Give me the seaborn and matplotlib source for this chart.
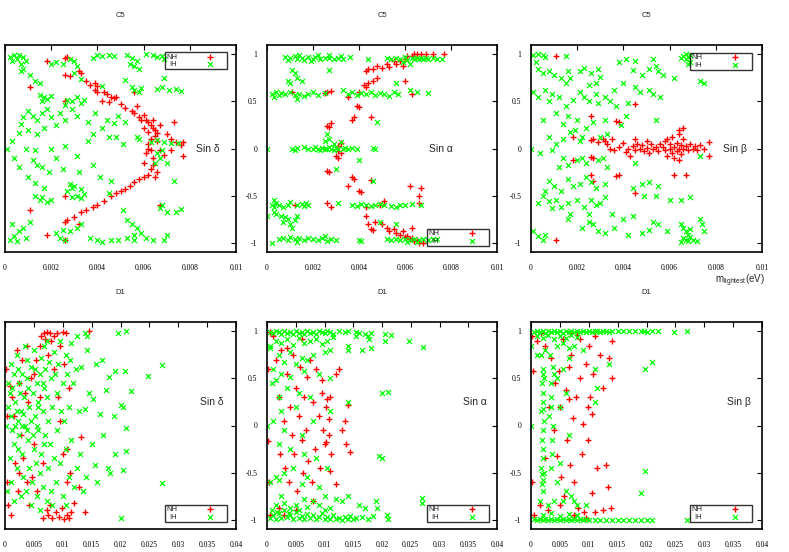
import seaborn as sns
import matplotlib.pyplot as plt
import pandas as pd
import numpy as np

# =========================
#   DATA  (m_lightest in meV, sine value)
# =========================

c5_delta_nh = [
    (1.8, .93), (2.7, .97), (2.6, .96), (2.6, .78), (2.8, .77), (3.2, .82), (3.3, .8), (3.5, .72), (3.7, .68),
    (3.9, .7), (4.0, .66), (4.0, .6), (3.9, .62), (4.4, .58), (4.3, .6), (4.6, .55), (4.7, .54), (4.2, .5),
    (4.5, .49), (5.0, .47), (5.2, .43), (5.5, .4), (5.6, .38), (5.8, .33), (5.9, .3), (5.7, .45), (6.0, .36),
    (6.1, .3), (6.2, .28), (6.3, .25), (6.4, .22), (6.5, .2), (6.4, .3), (6.6, .17), (6.5, .13), (6.2, .18),
    (6.3, .1), (6.6, .08), (6.7, .25), (7.3, .28), (7.0, .15), (7.2, .1), (7.4, .07), (7.6, .04), (7.7, .07),
    (6.2, .05), (6.2, 0), (6.3, -.02), (6.1, -.05), (6.4, -.1), (6.9, -.07), (7.2, -.02), (7.7, -.08),
    (6.4, -.18), (6.3, -.22), (6.2, -.28), (6.0, -.3), (6.5, -.3), (6.6, -.25), (5.8, -.32), (5.6, -.36),
    (5.4, -.4), (5.2, -.43), (5.0, -.45), (4.8, -.47), (4.6, -.5), (4.3, -.56), (4.0, -.6), (3.8, -.62),
    (3.5, -.65), (3.3, -.68), (3.0, -.73), (2.7, -.76), (2.6, -.78), (2.6, -.5), (2.6, .5), (3.2, -.8),
    (2.6, -.97), (1.8, -.92), (1.1, -.65), (1.1, .65), (6.7, -.6), (5.6, .6), (4.8, .55), (6.0, .22),
    (6.0, -.15), (6.7, -.02),
]
c5_delta_ih = [
    (.2, .97), (.4, .99), (.5, .95), (.6, .99), (.8, .97), (.9, .93), (.7, .9), (.3, .93), (.8, .85),
    (2.2, .92), (2.5, .9), (2.8, .95), (2.0, .9), (3.0, .93), (3.1, .88), (4.0, .99), (4.2, .98), (4.5, .99),
    (4.7, .98), (3.8, .96), (5.3, .99), (5.5, .96), (5.7, .93), (5.6, .88), (5.8, .84), (5.4, .9), (6.1, 1.0),
    (6.4, .99), (6.8, .98), (6.9, .95), (6.6, .97), (.7, .82), (1.1, .78), (1.3, .72), (1.5, .7), (3.3, .74),
    (3.0, .8), (5.2, .73), (5.6, .62), (5.8, .6), (5.9, .64), (5.5, .65), (4.2, .66), (6.6, .63), (6.8, .65),
    (7.1, .62), (7.4, .63), (7.6, .61), (6.9, .75), (1.5, .57), (1.7, .55), (1.8, .53), (2.0, .56), (1.6, .5),
    (2.7, .52), (2.9, .5), (3.1, .55), (3.3, .48), (3.4, .52), (2.6, .46), (.8, .33), (.7, .26), (1.0, .4),
    (1.2, .35), (1.4, .3), (1.6, .38), (1.8, .42), (2.0, .33), (2.2, .25), (2.4, .38), (2.6, .3), (1.0, .2),
    (1.4, .15), (1.7, .22), (2.9, .42), (3.1, .35), (.6, .17), (3.6, .28), (3.9, .38), (4.2, .22), (4.4, .3),
    (4.7, .27), (4.9, .35), (3.8, .15), (4.5, .12), (5.2, .28), (5.7, .12), (5.8, .1), (6.3, .07), (6.6, .09),
    (6.9, .07), (7.2, .06), (7.5, .06), (.9, 0), (1.3, -.02), (2.0, 0), (2.6, .03), (3.1, -.08), (3.6, .08),
    (4.8, .12), (5.1, .05), (.3, .08), (.1, 0), (.4, -.1), (.6, -.2), (1.2, -.12), (1.4, -.18), (1.6, -.2),
    (2.2, -.1), (2.5, -.22), (1.9, -.25), (1.0, -.3), (3.2, -.25), (3.8, -.18), (4.1, -.3), (4.6, -.35),
    (6.6, -.05), (6.7, -.1), (6.5, -.15), (6.8, -.02), (7.0, -.15), (7.3, -.35), (1.3, -.37), (1.7, -.42),
    (2.8, -.38), (2.9, -.42), (3.0, -.4), (2.7, -.45), (3.3, -.43), (1.5, -.55), (1.6, -.52), (1.8, -.57),
    (1.3, -.5), (2.0, -.55), (3.1, -.5), (3.3, -.53), (3.4, -.48), (2.9, -.52), (4.5, -.47), (5.1, -.65),
    (6.7, -.63), (7.0, -.68), (7.4, -.67), (7.6, -.64), (6.8, -.6), (5.5, -.8), (5.7, -.85), (5.9, -.9),
    (5.6, -.92), (5.3, -.76), (6.1, -.95), (.2, -.97), (.4, -.93), (.6, -.88), (.8, -.85), (.5, -.98),
    (.9, -.95), (.3, -.8), (1.1, -.78), (2.2, -.9), (2.5, -.87), (2.8, -.88), (3.1, -.85), (3.3, -.8),
    (2.4, -.95), (2.6, -.97), (4.0, -.97), (4.2, -.99), (4.6, -.97), (4.9, -.97), (5.3, -.95), (5.6, -.97),
    (6.4, -.97), (6.9, -.97), (7.0, -.92), (3.7, -.95),
]

c5_alpha_nh = [
    (1.1, .6), (2.5, .59), (2.8, .61), (2.6, .6), (3.5, .55), (4.0, .6), (3.9, .45), (4.0, .44), (3.7, .3),
    (3.8, .33), (4.5, .33), (2.6, .24), (2.7, .23), (2.8, .27), (3.2, .06), (3.1, .03), (3.1, -.03),
    (3.0, -.08), (3.1, -.1), (3.2, -.05), (2.6, -.24), (2.7, -.25), (3.7, -.3), (3.8, -.32), (4.5, -.34),
    (4.0, -.45), (4.1, -.46), (3.5, -.4), (2.6, -.58), (2.8, -.62), (1.2, -.6), (4.3, -.72), (4.4, -.8),
    (4.5, -.86), (4.6, -.87), (4.7, -.78), (5.0, -.8), (5.2, -.84), (5.3, -.88), (5.5, -.86), (5.6, -.9),
    (5.8, -.92), (5.9, -.88), (6.0, -.94), (6.1, -.93), (6.2, -.96), (6.3, -.95), (6.4, -.98), (6.5, -.97),
    (6.6, -1.0), (6.8, -1.0), (6.2, -.4), (6.7, -.42), (6.6, -.5), (6.6, -.58), (6.3, -.85), (4.3, .82),
    (4.4, .84), (4.6, .84), (4.8, .88), (5.0, .86), (5.2, .9), (5.3, .87), (5.5, .93), (5.6, .9), (5.8, .93),
    (6.0, .95), (6.1, .98), (6.3, .98), (6.4, 1.0), (6.5, 1.0), (6.7, 1.0), (6.9, 1.0), (7.2, 1.0),
    (7.7, 1.0), (4.2, .68), (4.4, .7), (4.6, .72), (4.8, .75), (4.3, .65), (6.0, .72), (6.3, .58),
    (5.9, .88), (4.3, -.62), (5.1, -.56), (4.9, -.6),
]
c5_alpha_ih = [
    (.8, .97), (.9, .94), (1.0, .96), (1.2, .98), (1.3, .95), (1.5, .96), (1.6, .94), (1.8, .97), (2.0, .95),
    (2.1, .97), (2.3, .95), (2.5, .96), (2.7, .96), (2.9, .95), (3.1, .96), (3.3, .95), (3.6, .97), (1.4, .99),
    (2.2, .99), (2.7, .99), (3.2, .98), (1.9, .93), (5.2, .96), (5.4, .95), (5.6, .96), (5.8, .95), (6.0, .97),
    (6.1, .94), (6.3, .96), (6.4, .95), (6.5, .96), (6.6, .95), (6.7, .96), (6.8, .95), (6.9, .96), (7.0, .95),
    (7.2, .96), (7.4, .95), (7.6, .95), (4.4, .95), (5.9, .92), (6.2, .9), (1.1, .83), (1.2, .8), (.9, .72),
    (1.0, .7), (1.3, .75), (1.5, .72), (2.7, .83), (.2, .58), (.4, .6), (.5, .57), (.6, .59), (.8, .58),
    (1.0, .6), (1.2, .57), (1.4, .58), (1.6, .56), (1.8, .58), (2.0, .6), (2.2, .57), (1.3, .53), (.3, .55),
    (2.5, .59), (3.5, .58), (3.7, .6), (3.9, .57), (4.1, .59), (4.3, .58), (4.5, .6), (4.7, .57), (4.9, .59),
    (5.1, .58), (5.3, .56), (5.5, .6), (5.7, .58), (3.3, .62), (5.6, .7), (6.2, .62), (6.5, .6), (7.0, .59),
    (0, 0), (1.1, 0), (1.2, -.02), (1.3, .01), (1.6, .02), (1.8, 0), (2.0, -.01), (2.1, .02), (2.2, 0),
    (2.3, -.02), (2.4, .01), (2.5, 0), (2.6, -.01), (2.7, .02), (2.8, 0), (2.9, -.02), (3.0, .01), (3.1, 0),
    (3.3, -.01), (3.4, .01), (3.5, 0), (3.7, .01), (3.9, 0), (4.6, .01), (4.7, 0), (2.6, .15), (2.7, .1),
    (2.5, .08), (4.8, .28), (2.9, .05), (3.2, .07), (4.0, -.12), (3.0, -.22), (.2, -.6), (.3, -.62),
    (.4, -.58), (.5, -.6), (.7, -.62), (.9, -.6), (1.0, -.57), (1.3, -.6), (1.5, -.59), (1.6, -.61),
    (1.7, -.58), (1.8, -.6), (.3, -.55), (3.7, -.6), (3.9, -.61), (4.1, -.59), (4.3, -.6), (4.5, -.61),
    (4.7, -.6), (4.9, -.59), (5.1, -.6), (5.4, -.61), (5.6, -.62), (5.8, -.6), (6.0, -.6), (6.3, -.59),
    (6.7, -.6), (4.6, -.35), (3.1, -.58), (0, -.72), (.3, -.68), (.4, -.7), (.6, -.72), (.7, -.78),
    (.9, -.75), (1.0, -.8), (1.2, -.76), (1.3, -.72), (1.1, -.85), (.8, -.73), (5.6, -.8), (4.9, -.78),
    (.2, -1.0), (.5, -.96), (.7, -.95), (.9, -.97), (1.0, -.94), (1.2, -.96), (1.4, -.95), (1.6, -.97),
    (1.8, -.95), (2.0, -.96), (2.2, -.97), (2.4, -.95), (2.6, -.98), (2.8, -.96), (3.0, -.97), (2.5, -.93),
    (1.3, -.99), (4.0, -.97), (4.1, -.98), (5.2, -.96), (5.4, -.97), (5.6, -.96), (5.8, -.97), (6.0, -.96),
    (6.2, -.97), (6.4, -.96), (6.6, -.97), (6.8, -.96), (7.0, -.97), (7.2, -.96), (7.4, -.96), (6.1, -.99),
    (6.5, -.99),
]

c5_beta_nh = [
    (1.1, .98), (1.1, -.97), (1.8, .12), (1.8, -.12), (2.6, .35), (2.6, .09), (2.6, -.09), (2.6, -.28),
    (2.7, -.35), (2.7, .1), (2.9, .07), (3.1, .1), (3.2, .08), (3.5, .1), (3.7, .29), (3.8, .28), (3.7, -.29),
    (3.8, -.28), (4.5, .47), (4.5, -.47), (3.3, .05), (3.4, 0), (3.6, -.02), (3.8, .02), (4.0, .06),
    (4.1, -.04), (4.2, 0), (4.4, .03), (4.5, -.02), (4.6, .05), (4.7, 0), (4.8, .04), (4.9, -.03), (5.0, .01),
    (5.1, -.05), (5.2, .05), (5.3, 0), (5.4, .02), (5.5, -.03), (5.6, .05), (5.7, .02), (5.8, -.02),
    (5.8, .08), (5.9, .1), (5.9, -.08), (6.0, 0), (6.0, .05), (6.1, -.05), (6.1, .12), (6.2, .02), (6.2, -.1),
    (6.3, .06), (6.3, -.03), (6.4, .15), (6.4, 0), (6.4, -.12), (6.5, .04), (6.5, -.06), (6.6, .1), (6.6, 0),
    (6.7, .03), (6.8, -.02), (6.9, .05), (7.0, 0), (7.1, .03), (7.2, -.02), (7.3, .04), (7.5, 0), (7.7, .07),
    (7.7, -.08), (6.2, -.28), (6.7, -.28), (6.6, .22), (6.4, .2), (2.7, -.1), (4.5, .1), (5.0, .08),
    (4.3, -.08),
]
c5_beta_ih = [
    (.1, .99), (.3, 1.0), (.5, .99), (.6, .97), (1.5, .98), (.2, .92), (6.6, .98), (6.7, 1.0), (6.8, .97),
    (6.9, .99), (6.7, .95), (6.9, .92), (6.5, .96), (6.8, .9), (.3, .85), (.5, .8), (.8, .82), (1.0, .78),
    (1.3, .75), (1.6, .82), (1.7, .75), (1.5, .7), (2.1, .82), (2.3, .86), (2.6, .8), (2.9, .85), (3.0, .76),
    (2.8, .7), (2.5, .68), (3.8, .92), (4.1, .95), (4.5, .93), (5.3, .95), (5.4, .88), (5.1, .85), (5.5, .82),
    (5.7, .78), (6.2, .75), (7.3, .72), (7.5, .7), (4.4, .83), (4.8, .78), (4.5, .65), (4.7, .6), (5.1, .62),
    (5.3, .58), (5.6, .55), (4.0, .7), (3.6, .62), (.1, .6), (.3, .55), (.6, .62), (.9, .58), (1.2, .55),
    (.8, .5), (1.5, .45), (1.8, .52), (2.1, .6), (2.3, .55), (2.5, .5), (2.8, .58), (2.9, .48), (3.2, .55),
    (3.4, .5), (3.7, .45), (4.2, .48), (5.4, .3), (4.1, .35), (3.9, .25), (3.2, .3), (2.7, .28), (2.4, .22),
    (2.0, .3), (1.6, .35), (1.4, .26), (1.1, .38), (.5, .3), (1.9, .2), (.8, .12), (1.1, .05), (1.7, .18),
    (2.2, .12), (3.0, .12), (3.3, .15), (2.1, .08), (1.4, .1), (0, 0), (.4, -.05), (.9, -.02), (1.4, -.1),
    (1.2, -.2), (1.6, -.18), (2.0, -.12), (2.2, -.1), (2.4, -.15), (2.9, -.12), (3.1, -.1), (3.3, -.2),
    (4.5, -.15), (7.3, -.08), (.6, -.45), (.8, -.35), (1.0, -.4), (1.3, -.45), (1.6, -.32), (1.8, -.4),
    (2.1, -.38), (2.4, -.3), (2.6, -.36), (2.8, -.42), (3.2, -.38), (4.4, -.42), (4.8, -.38), (5.1, -.36),
    (5.5, -.4), (5.4, -.5), (4.9, -.5), (6.0, -.55), (6.5, -.55), (6.9, -.52), (.3, -.58), (.5, -.5),
    (.8, -.56), (.9, -.63), (1.1, -.55), (1.3, -.62), (1.6, -.58), (1.7, -.7), (1.6, -.75), (2.0, -.55),
    (2.3, -.62), (2.5, -.7), (2.6, -.55), (2.8, -.6), (3.0, -.58), (3.2, -.52), (2.5, -.78), (2.7, -.8),
    (3.5, -.7), (4.0, -.75), (4.4, -.72), (5.3, -.78), (5.5, -.8), (5.9, -.88), (2.2, -.85), (2.9, -.88),
    (3.6, -.85), (4.2, -.92), (4.8, -.9), (5.1, -.87), (3.2, -.9), (.1, -.88), (.3, -.93), (.5, -.97),
    (.6, -.92), (6.5, -.8), (6.6, -.85), (6.7, -.88), (6.8, -.92), (6.6, -.95), (6.8, -.98), (6.7, -.97),
    (6.9, -.94), (7.0, -.97), (7.2, -.98), (6.5, -.99), (6.9, -.86), (7.5, -.88), (7.3, -.75), (7.4, -.8),
]

d1_delta_nh = [
    (.2, .6), (.3, -.6), (.3, .1), (.5, -.85), (1.0, -.95), (.8, .42), (1.5, .1), (1.8, -.4), (2.0, .8),
    (2.2, -.7), (2.5, .45), (2.8, -.1), (3.0, .7), (3.2, -.35), (3.5, .35), (3.8, -.6), (3.8, .85), (4.0, .25),
    (4.2, -.85), (4.5, .5), (4.6, -.55), (5.0, -.2), (5.3, .7), (5.5, -.7), (6.0, .85), (6.2, .95),
    (6.5, -.98), (6.8, .98), (7.0, .92), (7.2, -.9), (7.3, .99), (7.5, -.95), (7.8, .98), (7.8, -.85),
    (8.0, .9), (8.2, -.98), (8.5, .95), (8.8, -.92), (9.0, .98), (9.3, -.97), (9.5, .85), (9.8, -.88),
    (10.0, .99), (10.2, -.99), (10.5, .98), (10.8, -.95), (11.0, -.98), (11.5, -.92), (12.0, -.82),
    (13.8, -.92), (14.5, 1.0), (7.5, .75), (9.2, .3), (9.5, .05), (10.0, -.3), (10.3, .65), (10.8, -.25),
    (11.0, .4), (11.3, -.5), (12.8, -.65), (13.2, -.12), (10.8, -.6), (6.0, .3), (6.5, -.4), (2.5, -.5),
    (1.2, .3), (8.5, .6), (5.0, .55),
]
d1_delta_ih = [
    (.2, 0), (.5, .45), (.8, .35), (1.0, .1), (1.2, -.05), (1.5, .55), (1.5, -.2), (1.8, .25), (2.0, -.45),
    (2.2, .6), (2.3, .05), (2.5, -.1), (2.6, .35), (2.8, .15), (3.0, .55), (3.0, -.3), (3.2, -.55), (3.3, .3),
    (3.5, 0), (3.6, -.7), (3.8, .5), (3.8, .7), (4.0, -.15), (4.2, .2), (4.2, -.45), (4.5, .62), (4.5, .05),
    (4.7, -.6), (4.8, .35), (5.0, -.25), (5.0, .8), (5.2, .1), (5.3, -.4), (5.5, .45), (5.5, -.75), (5.7, .25),
    (5.8, -.05), (6.0, .55), (6.0, -.5), (6.2, .72), (6.3, -.3), (6.5, .15), (6.5, -.65), (6.7, .4), (6.8, .85),
    (7.0, -.1), (7.0, .6), (7.2, -.8), (7.3, .3), (7.5, -.45), (7.5, .05), (7.7, .68), (7.8, -.2), (8.0, .5),
    (8.0, -.7), (8.2, .2), (8.4, -.35), (8.5, .78), (8.7, .55), (8.8, -.6), (9.0, -.05), (9.0, .35),
    (9.2, .65), (9.5, -.4), (9.7, .15), (10.0, -.75), (10.0, .45), (10.2, .05), (10.5, .75), (10.5, -.25),
    (10.8, .55), (11.0, -.55), (11.0, .2), (11.3, .7), (11.5, -.15), (11.8, .45), (12.0, -.65), (12.3, .6),
    (12.5, -.45), (12.8, .15), (13.0, -.3), (13.2, .62), (13.5, -.7), (13.8, .18), (14.2, .8), (14.0, -.55),
    (14.5, .35), (15.0, -.2), (15.2, .28), (15.5, -.42), (15.8, .65), (16.0, -.6), (16.5, .12), (16.8, .7),
    (17.0, -.1), (17.5, .38), (17.8, -.45), (18.0, .52), (18.2, -.5), (18.8, .1), (19.0, .58), (19.0, -.3),
    (19.5, .98), (20.0, .22), (20.0, -.98), (20.5, .2), (20.5, -.47), (20.8, .58), (21.0, -.27), (21.0, -.03),
    (21.0, 1.0), (21.8, .37), (24.7, .53), (27.2, .64), (27.1, -.61), (13.8, .98), (14.2, .95), (.5, .2),
    (.8, -.35), (1.2, .4), (1.0, -.6), (1.8, 0), (2.0, .75), (2.5, .45), (2.8, -.75), (3.2, .12), (3.5, .85),
    (4.0, .4), (4.5, -.85), (5.2, .6), (5.8, .2), (6.0, -.9), (6.8, -.2), (7.2, .9), (8.2, -.85), (9.5, .9),
    (10.5, -.85), (11.5, .88), (12.5, .95), (1.0, .65), (2.2, -.25), (3.8, -.05), (4.8, -.1), (5.5, 0),
    (6.5, .45), (3.0, 0), (2.0, .15), (1.5, -.8), (.3, -.7),
]

d1_alpha_nh = [
    (.5, .99), (.2, .6), (.3, -.6), (.2, -.17), (.5, -.95), (1.0, .95), (1.5, .7), (2.0, .3), (2.2, -.3),
    (2.5, .8), (3.0, .05), (3.2, -.45), (3.5, .55), (3.8, -.6), (4.0, .2), (4.3, -.1), (4.5, .75), (4.7, -.3),
    (5.0, .4), (5.2, -.7), (5.5, .1), (5.7, .62), (6.0, -.15), (6.2, -.5), (6.5, .3), (6.8, -.05), (7.0, .52),
    (7.2, -.38), (7.5, .7), (7.8, -.6), (8.0, .25), (8.3, -.25), (8.5, .6), (9.0, .1), (9.2, -.45), (9.5, .35),
    (9.8, -.05), (10.0, -.2), (10.2, .2), (10.5, .28), (10.8, -.1), (11.0, .3), (11.2, -.3), (12.0, .55),
    (12.5, .6), (13.0, -.05), (13.5, .05), (13.8, -.2), (14.0, .22), (14.5, -.28), (12.0, -.62), (11.0, -.48),
    (8.0, -.8), (5.0, -.9), (3.0, -.95), (2.0, -.88), (6.0, .92), (3.5, .82), (9.5, .48), (10.8, .07),
    (10.2, -.18),
]
d1_alpha_ih = [
    (.5, .99), (1.0, .98), (1.5, 1.0), (2.0, .99), (2.5, .97), (3.0, 1.0), (3.5, .98), (4.0, .99), (4.5, .97),
    (5.0, 1.0), (5.5, .98), (6.0, .99), (6.5, .97), (7.0, 1.0), (7.5, .98), (8.0, .99), (8.5, .97), (9.0, 1.0),
    (9.5, .99), (10.0, .98), (10.5, 1.0), (11.0, .99), (11.5, .97), (12.5, 1.0), (13.5, .99), (14.0, 1.0),
    (15.5, .99), (16.0, .98), (17.0, .97), (17.5, .95), (18.0, .98), (20.5, .97), (21.5, .96), (24.7, .9),
    (27.1, .83), (17.8, .92), (20.5, .9), (14.0, .85), (14.0, .8), (15.5, .95), (18.0, .82), (16.5, .8),
    (.5, .85), (1.5, .9), (2.5, .88), (3.5, .92), (4.5, .86), (5.5, .93), (6.5, .88), (7.5, .9), (8.5, .92),
    (9.5, .87), (10.5, .9), (11.5, .94), (2.0, .75), (4.0, .78), (6.0, .72), (8.0, .75), (10.0, .78),
    (11.0, .8), (1.0, .6), (3.0, .68), (5.0, .65), (7.0, .7), (.5, .82), (2.5, .55), (4.0, .52), (1.5, .48),
    (.8, .45), (6.5, .58), (9.0, .55), (11.0, .5), (3.5, .4), (5.5, .35), (2.0, .3), (7.5, .3), (20.0, .35),
    (21.0, .36), (14.0, .25), (11.0, .15), (5.0, .2), (2.5, .15), (1.0, .05), (0, 0), (3.0, -.05), (6.0, -.1),
    (8.0, .05), (4.0, -.25), (6.5, -.3), (2.0, -.2), (10.5, -.45), (1.5, -.55), (3.0, -.5), (4.5, -.45),
    (7.0, -.55), (8.5, -.35), (19.5, -.32), (20.0, -.35), (.5, -.6), (2.0, -.58), (6.0, -.62), (9.0, -.65),
    (.5, -.98), (1.0, -.95), (1.5, -.99), (2.0, -.93), (2.5, -.98), (3.0, -.9), (3.5, -.97), (4.0, -.95),
    (4.5, -.99), (5.0, -.92), (5.5, -.98), (6.0, -.96), (6.5, -.99), (7.0, -.94), (7.5, -.98), (8.0, -.95),
    (8.5, -.99), (9.0, -.97), (9.5, -.93), (10.0, -.99), (10.5, -.97), (11.0, -.99), (11.5, -.95), (12.0, -.99),
    (12.5, -.98), (13.0, -1.0), (13.5, -.97), (14.0, -.99), (14.5, -.96), (15.0, -.99), (15.5, -.98),
    (16.5, -.97), (17.5, -.99), (18.5, -.96), (20.8, -.95), (21.0, -.99), (19.0, -.8), (19.2, -.88),
    (27.0, -.77), (27.0, -.82), (14.0, -.75), (13.0, -.8), (12.0, -.78), (10.0, -.75), (8.0, -.8),
    (6.5, -.78), (5.0, -.85), (3.0, -.82), (1.5, -.85), (2.5, -.75), (4.0, -.88), (7.0, -.87), (9.0, -.85),
    (11.0, -.88), (.8, -.9), (1.8, -.92), (3.8, -.93), (5.5, -.9), (16.0, -.85), (17.0, -.88), (10.0, -.9),
]

d1_beta_nh = [
    (.2, .95), (.3, .58), (.2, -.6), (.5, -.95), (1.0, .9), (1.5, -.85), (2.5, .85), (3.0, -.9), (3.5, .72),
    (4.0, -.05), (4.2, .45), (4.5, -.32), (4.8, .58), (5.0, .2), (5.2, -.55), (5.5, .92), (5.8, -.75),
    (6.0, .38), (6.2, -.15), (6.5, .62), (6.8, -.42), (7.0, .75), (7.2, .08), (7.5, -.6), (7.8, .3), (8.0, .96),
    (8.2, -.88), (8.5, .5), (8.8, -.3), (9.0, .02), (9.2, -.92), (9.5, .65), (9.8, -.15), (10.0, .85),
    (10.2, .3), (10.5, -.72), (10.8, .55), (11.0, -.92), (11.0, .95), (11.5, -.45), (12.0, .75), (12.5, .4),
    (12.5, -.9), (13.0, -.42), (13.5, .72), (13.8, -.88), (14.0, .5), (14.0, .9), (13.3, -.65), (10.5, .12),
    (9.8, .2), (6.5, .28), (3.2, .2), (2.5, -.35), (5.0, -.85), (7.5, -.95), (9.5, -.98), (1.8, .98),
    (6.8, .98), (8.5, .92),
]
d1_beta_ih = [
    (.5, .99), (1.0, 1.0), (1.5, .99), (2.0, 1.0), (2.5, .98), (3.0, 1.0), (3.5, .99), (4.0, 1.0), (4.5, .99),
    (5.0, 1.0), (5.5, .98), (6.0, 1.0), (6.5, .99), (7.0, 1.0), (7.5, .99), (8.0, 1.0), (8.5, .99), (9.0, 1.0),
    (9.5, .99), (10.0, 1.0), (10.5, .99), (11.0, 1.0), (11.5, 1.0), (12.0, .99), (12.5, 1.0), (13.0, 1.0),
    (13.5, .99), (14.0, 1.0), (15.0, 1.0), (16.0, 1.0), (17.0, 1.0), (18.0, 1.0), (19.0, 1.0), (19.5, 1.0),
    (20.0, .99), (21.0, 1.0), (22.0, 1.0), (24.7, .99), (27.0, 1.0), (1.0, .95), (2.0, .93), (3.0, .96),
    (4.0, .92), (5.0, .95), (6.0, .93), (7.0, .96), (8.0, .94), (.5, -.99), (1.0, -1.0), (1.5, -.99),
    (2.0, -1.0), (2.5, -.99), (3.0, -1.0), (3.5, -.99), (4.0, -1.0), (4.5, -.99), (5.0, -1.0), (5.5, -.99),
    (6.0, -1.0), (6.5, -.99), (7.0, -1.0), (7.5, -.99), (8.0, -1.0), (8.5, -.99), (9.0, -1.0), (9.5, -.99),
    (10.0, -1.0), (11.0, -1.0), (12.0, -1.0), (13.0, -1.0), (14.0, -1.0), (15.0, -1.0), (16.0, -1.0),
    (17.0, -1.0), (18.0, -1.0), (19.0, -1.0), (20.0, -1.0), (21.0, -1.0), (27.0, -1.0), (2.0, -.95),
    (3.5, -.93), (5.0, -.96), (6.5, -.94), (8.0, -.95), (1.8, .75), (2.0, .6), (2.2, .5), (1.9, .45),
    (2.1, .35), (2.0, .25), (1.8, .15), (2.2, .05), (2.0, -.05), (1.9, -.15), (2.1, -.25), (2.0, -.35),
    (1.8, -.45), (2.2, -.5), (2.0, -.58), (1.9, -.62), (2.1, -.7), (2.0, .55), (2.1, .18), (1.9, -.52),
    (0, 0), (0, .85), (3.2, .1), (3.5, .3), (3.8, 0), (3.6, -.15), (3.4, .2), (3.7, -.3), (3.5, .45),
    (4.0, .55), (3.8, .62), (3.3, .75), (3.5, -.45), (1.0, .75), (2.5, .8), (4.5, .85), (5.5, .88),
    (6.5, .82), (7.5, .85), (9.0, .8), (4.5, .5), (5.5, .6), (6.0, .35), (5.0, .2), (6.5, -.1), (5.0, -.4),
    (4.5, -.6), (6.0, -.7), (5.5, -.8), (7.0, -.75), (8.0, -.85), (7.5, -.8), (9.5, -.85), (11.5, .4),
    (11.0, .6), (13.5, .65), (19.8, .6), (21.0, .67), (19.8, -.48), (19.0, -.72), (11.0, .25), (1.5, -.8),
    (3.0, -.85), (4.0, -.8), (6.5, .72),
]

titles = ["C5", "C5", "C5", "D1", "D1", "D1"]
phase_labels = ["Sin δ", "Sin α", "Sin β", "Sin δ", "Sin α", "Sin β"]
x_ticks_c5 = [0, 0.002, 0.004, 0.006, 0.008, 0.01]
x_ticks_d1 = [0, 0.005, 0.01, 0.015, 0.02, 0.025, 0.03, 0.035, 0.04]
y_ticks = [-1, -0.5, 0, 0.5, 1]


def to_frame(pairs):
    arr = np.array(pairs)
    return pd.DataFrame({"m_lightest": arr[:, 0] / 1000.0, "sin": arr[:, 1]})


series = [
    (c5_delta_nh, c5_delta_ih), (c5_alpha_nh, c5_alpha_ih), (c5_beta_nh, c5_beta_ih),
    (d1_delta_nh, d1_delta_ih), (d1_alpha_nh, d1_alpha_ih), (d1_beta_nh, d1_beta_ih),
]

# =========================
#   STYLE
# =========================

sns.set_theme(style="white")
plt.rcParams["font.family"] = ["Liberation Serif", "DejaVu Serif"]
plt.rcParams["mathtext.fontset"] = "custom"
plt.rcParams["mathtext.rm"] = "Liberation Sans"
plt.rcParams["mathtext.it"] = "Liberation Sans"
SANS = ["Liberation Sans", "DejaVu Sans"]

W, H = 789, 552
fig = plt.figure(figsize=(W / 100, H / 100), dpi=100)

# pixel boxes (left, top, width, height) of the six frames
boxes = [
    (5, 45, 231, 207), (267, 45, 230, 207), (531, 45, 231, 207),
    (5, 322, 231, 207), (267, 322, 230, 207), (531, 322, 231, 207),
]
# legend anchor (axes fraction) and location
legend_pos = [
    ("upper right", (0.961, 0.966)), ("lower right", (0.965, 0.029)), ("upper right", (0.957, 0.963)),
    ("lower right", (0.961, 0.034)), ("lower right", (0.965, 0.034)), ("lower right", (0.957, 0.034)),
]
label_pos = [(0.827, 0.5), (0.704, 0.5), (0.831, 0.5), (0.844, 0.613), (0.852, 0.613), (0.848, 0.613)]

for i, (l, t, w, h) in enumerate(boxes):
    ax = fig.add_axes([l / W, 1 - (t + h) / H, w / W, h / H])
    nh = to_frame(series[i][0])
    ih = to_frame(series[i][1])

    sns.scatterplot(data=nh, x="m_lightest", y="sin", marker="+", color="#ff0000",
                    s=20, linewidth=1.0, label="NH", ax=ax)
    sns.scatterplot(data=ih, x="m_lightest", y="sin", marker="x", color="#00ff00",
                    s=13, linewidth=0.9, label="IH", ax=ax)

    ticks = x_ticks_c5 if i < 3 else x_ticks_d1
    ax.set_xlim(0, ticks[-1])
    ax.set_ylim(-1.1, 1.1)
    ax.set_xticks(ticks)
    ax.set_xticklabels([f"{v:g}" for v in ticks])
    ax.set_yticks(y_ticks)
    ax.set_yticklabels([f"{v:g}" for v in y_ticks])
    ax.set_xlabel("")
    ax.set_ylabel("")
    ax.tick_params(axis="both", direction="in", top=True, right=True, length=3.5,
                   width=0.8, labelsize=5.5, colors="black")
    ax.tick_params(axis="x", pad=8.5)
    # left-column labels fall outside the canvas in the original, so they are not shown
    ax.tick_params(axis="y", pad=7, labelleft=(i % 3 != 0))
    for sp in ax.spines.values():
        sp.set_color("black")
        sp.set_linewidth(1.2)

    ax.set_title(titles[i], fontsize=5.5, family=SANS, pad=20)
    ax.text(label_pos[i][0], label_pos[i][1], phase_labels[i], transform=ax.transAxes,
            fontsize=7.5, family=SANS, ha="left", va="center")

    loc, anchor = legend_pos[i]
    leg = ax.legend(loc=loc, bbox_to_anchor=anchor, markerfirst=False, frameon=True,
                    fancybox=False, prop={"family": SANS, "size": 5.5}, borderpad=0.15,
                    handletextpad=2.2, handlelength=4.2, labelspacing=0.05, borderaxespad=0)
    frame = leg.get_frame()
    frame.set_edgecolor("black")
    frame.set_linewidth(1.0)
    frame.set_facecolor("none")

fig.text(740 / W, 1 - 281 / H, r"m$_{\mathrm{lightest}}$(eV)", fontsize=7, family=SANS,
         ha="center", va="center")

plt.savefig("out.png", dpi=100)
